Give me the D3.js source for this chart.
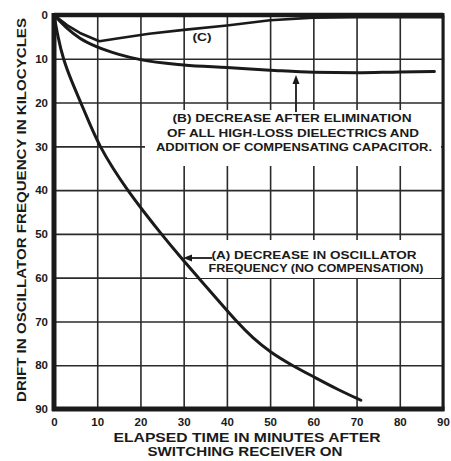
<!DOCTYPE html>
<html><head><meta charset="utf-8">
<script src="https://cdn.jsdelivr.net/npm/d3@7"></script>
<style>
html,body{margin:0;padding:0;background:#fff;}
svg{display:block;}
text{font-family:"Liberation Sans",Arial,sans-serif;font-weight:bold;fill:#1a1a1a;}
</style></head>
<body>
<script>
// ---- data ----
const xTicks = [0,10,20,30,40,50,60,70,80,90];
const yTicks = [0,10,20,30,40,50,60,70,80,90];
const curveA_t = [0,0.9,2.1,4,6.2,8.3,10.6,13.6,17,20.8,24.8,29,33.4,37.8,42.2,46,50,55,60,65.5,71];
const curveA_v = [0,5,10,15,20,25,30,35,40,45,50,55,60,65,70,73.8,77,80,82.6,85.5,88];
const curveB_t = [0,3,6,10,15,20,30,40,50,60,70,80,88];
const curveB_v = [0,3,5.3,7.3,9,10.2,11.4,12,12.6,13.1,13.2,13,12.9];
const curveC_t = [0,3,6,10.5,15,22,30,40,50,60,70,80,90];
const curveC_v = [0,2.3,4.1,6,5.3,4.3,3.4,2.4,1.2,0.6,0.5,0.5,0.5];
const labelA = ["(A) DECREASE IN OSCILLATOR","FREQUENCY (NO COMPENSATION)"];
const labelB = ["(B) DECREASE AFTER ELIMINATION","OF ALL HIGH-LOSS DIELECTRICS AND","ADDITION OF COMPENSATING CAPACITOR."];
const labelC = "(C)";
const xTitle = ["ELAPSED TIME IN MINUTES AFTER","SWITCHING RECEIVER ON"];
const yTitle = "DRIFT IN OSCILLATOR FREQUENCY IN KILOCYCLES";

const W = 451, H = 461;
const svg = d3.select("body").append("svg").attr("width",W).attr("height",H);
const x = d3.scaleLinear().domain([0,90]).range([54,443]);
const y = d3.scaleLinear().domain([0,90]).range([15,409]);
const ink = "#1a1a1a";

// grid
const gx = svg.append("g").attr("transform",`translate(0,${y(90)})`)
  .call(d3.axisBottom(x).tickValues(xTicks).tickSize(-(y(90)-y(0))).tickFormat(""));
const gy = svg.append("g").attr("transform",`translate(${x(0)},0)`)
  .call(d3.axisLeft(y).tickValues(yTicks).tickSize(-(x(90)-x(0))).tickFormat(""));
[gx,gy].forEach(g=>{g.select(".domain").remove();
  g.selectAll("line").attr("stroke","#2a2a2a").attr("stroke-width",1.6);});

// white boxes behind annotations
svg.append("rect").attr("x",145).attr("y",110).attr("width",x(90)-145-2).attr("height",56).attr("fill","#fff");
svg.append("rect").attr("x",187).attr("y",240).attr("width",x(90)-187-2).attr("height",38).attr("fill","#fff");

// tick labels
const lx = svg.append("g").attr("transform",`translate(0,${y(90)})`)
  .call(d3.axisBottom(x).tickValues(xTicks).tickSize(0).tickPadding(9));
const ly = svg.append("g").attr("transform",`translate(${x(0)},0)`)
  .call(d3.axisLeft(y).tickValues(yTicks).tickSize(0).tickPadding(6));
[lx,ly].forEach(g=>{g.select(".domain").remove();
  g.selectAll("text").style("font-family","'Liberation Sans',Arial,sans-serif").style("font-weight","bold").style("font-size","11.5px").attr("fill",ink);});

// frame
svg.append("line").attr("x1",x(0)).attr("x2",x(90)).attr("y1",y(0)).attr("y2",y(0)).attr("stroke",ink).attr("stroke-width",4.5);
svg.append("line").attr("x1",x(0)-2).attr("x2",x(90)+1.5).attr("y1",y(90)).attr("y2",y(90)).attr("stroke",ink).attr("stroke-width",5);
svg.append("line").attr("x1",x(0)).attr("x2",x(0)).attr("y1",y(0)-2).attr("y2",y(90)+2).attr("stroke",ink).attr("stroke-width",5);
svg.append("line").attr("x1",x(90)).attr("x2",x(90)).attr("y1",y(0)-2).attr("y2",y(90)+2).attr("stroke",ink).attr("stroke-width",3);

// curves
function draw(ts,vs,curve,w){
  const pts = ts.map((t,i)=>[t,vs[i]]);
  svg.append("path").datum(pts)
    .attr("d",d3.line().x(d=>x(d[0])).y(d=>y(d[1])).curve(curve))
    .attr("fill","none").attr("stroke",ink).attr("stroke-width",w)
    .attr("stroke-linecap","round").attr("stroke-linejoin","round");
}
draw(curveA_t,curveA_v,d3.curveBasis,3);
draw(curveB_t,curveB_v,d3.curveMonotoneX,3);
draw(curveC_t,curveC_v,d3.curveLinear,2.6);

// annotations
function txt(s,cx,by,len,size){
  svg.append("text").attr("x",cx).attr("y",by).attr("text-anchor","middle")
    .style("font-size",size+"px").attr("textLength",len).attr("lengthAdjust","spacingAndGlyphs").text(s);
}
txt(labelC,202,41,19,11);
txt(labelB[0],292,122,239,11);
txt(labelB[1],293,137,252,11);
txt(labelB[2],294,151,276,11);
txt(labelA[0],314,259,205,11);
txt(labelA[1],316,272,215,11);
txt(xTitle[0],247,442,267,13.5);
txt(xTitle[1],245,456,195,13.5);
svg.append("text").attr("transform",`translate(26,210) rotate(-90)`).attr("text-anchor","middle")
  .style("font-size","12.5px").attr("textLength",384).attr("lengthAdjust","spacingAndGlyphs").text(yTitle);

// arrows
svg.append("line").attr("x1",296).attr("x2",296).attr("y1",112).attr("y2",82).attr("stroke",ink).attr("stroke-width",1.8);
svg.append("path").attr("d","M296,75 L292.5,84 L299.5,84 Z").attr("fill",ink);
svg.append("line").attr("x1",212).attr("x2",190).attr("y1",258).attr("y2",258).attr("stroke",ink).attr("stroke-width",1.8);
svg.append("path").attr("d","M183,258 L192,254.5 L192,261.5 Z").attr("fill",ink);
</script>
</body></html>
